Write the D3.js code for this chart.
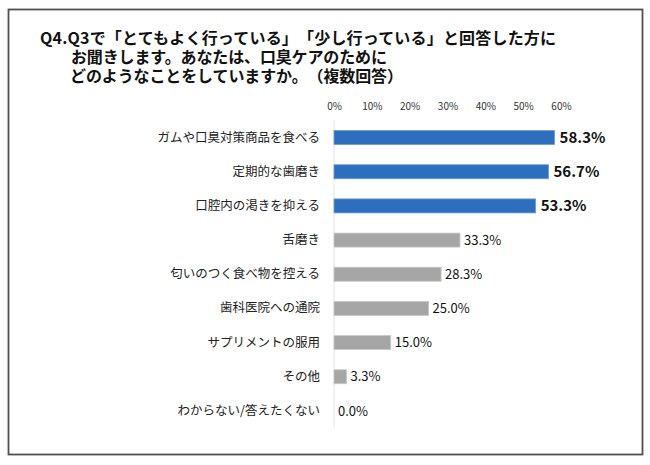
<!DOCTYPE html>
<html>
<head>
<meta charset="utf-8">
<script src="https://cdn.jsdelivr.net/npm/d3@7"></script>
<style>
  html, body { margin: 0; padding: 0; background: #fff; }
  svg { display: block; }
  text { font-family: "Noto Sans CJK JP", "Noto Sans", sans-serif; text-spacing-trim: space-all; }
</style>
</head>
<body>
<svg id="chart" width="650" height="465"></svg>
<script>
const titleLines = [
  "Q4.Q3で「とてもよく行っている」「少し行っている」と回答した方に",
  "お聞きします。あなたは、口臭ケアのために",
  "どのようなことをしていますか。（複数回答）"
];
const categories = [
  "ガムや口臭対策商品を食べる",
  "定期的な歯磨き",
  "口腔内の渇きを抑える",
  "舌磨き",
  "匂いのつく食べ物を控える",
  "歯科医院への通院",
  "サプリメントの服用",
  "その他",
  "わからない/答えたくない"
];
const values = [58.3, 56.7, 53.3, 33.3, 28.3, 25.0, 15.0, 3.3, 0.0];
const highlighted = [true, true, true, false, false, false, false, false, false];
const tickValues = [0, 10, 20, 30, 40, 50, 60];

const svg = d3.select("#chart");

// frame
svg.append("rect")
  .attr("x", 8.5).attr("y", 9.5).attr("width", 634).attr("height", 445)
  .attr("fill", "#fff").attr("stroke", "#505050").attr("stroke-width", 1.8);

// title (one text element, three lines), stretched to reference widths
const titleX = [40, 71, 70];
const titleDy = [44, 19, 19];
const titleLen = [516, 316, 333];
const title = svg.append("text")
  .attr("font-size", 16).attr("font-weight", "bold").attr("fill", "#111");
titleLines.forEach((t, i) => {
  const ts = title.append("tspan")
    .attr("x", titleX[i])
    .attr(i === 0 ? "y" : "dy", titleDy[i])
    .text(t);
  const n = Array.from(t).length;
  const len = ts.node().getComputedTextLength();
  const extra = (titleLen[i] - len) / (n - 1);
  ts.attr("letter-spacing", extra.toFixed(3) + "px");
});

const x = d3.scaleLinear().domain([0, 60]).range([334, 561]);
const y = d3.scaleBand().domain(categories).range([120.5, 428])
  .paddingInner(0.59).paddingOuter(0.295);

// top axis tick labels
const axis = d3.axisTop(x).tickValues(tickValues).tickFormat(d => d + "%").tickSize(0).tickPadding(0);
const gAxis = svg.append("g").attr("transform", "translate(0,110)").call(axis);
gAxis.select(".domain").remove();
gAxis.selectAll("text")
  .attr("font-size", 10).attr("fill", "#333")
  .attr("font-family", "\"Noto Sans CJK JP\", sans-serif")
  .attr("dy", 0);

// vertical baseline
svg.append("line")
  .attr("x1", x(0)).attr("x2", x(0))
  .attr("y1", 120.5).attr("y2", 428)
  .attr("stroke", "#e3e3e3").attr("stroke-width", 1);

// category labels
const yAxis = d3.axisLeft(y).tickSize(0).tickPadding(0);
const gY = svg.append("g").attr("transform", "translate(320,0)").call(yAxis);
gY.select(".domain").remove();
gY.selectAll("text")
  .attr("font-size", 12.5).attr("fill", "#222")
  .attr("font-family", "\"Noto Sans CJK JP\", sans-serif");

// bars
const data = categories.map((c, i) => ({ c, v: values[i], h: highlighted[i] }));
svg.append("g").selectAll("rect").data(data).join("rect")
  .attr("x", x(0))
  .attr("y", d => y(d.c))
  .attr("width", d => x(d.v) - x(0))
  .attr("height", y.bandwidth())
  .attr("fill", d => d.h ? "#2e6fbd" : "#a6a6a6")
  .attr("stroke", d => d.v > 0 ? (d.h ? "#6d9bd3" : "#c8c8c8") : "none")
  .attr("stroke-width", 0.8);

// value labels
svg.append("g").selectAll("text").data(data).join("text")
  .attr("x", d => x(d.v) + (d.h ? 5 : 4))
  .attr("y", d => y(d.c) + y.bandwidth() / 2)
  .attr("dy", "0.36em")
  .attr("font-size", d => d.h ? 15 : 13)
  .attr("font-weight", d => d.h ? "bold" : "normal")
  .attr("fill", "#111")
  .text(d => d.v.toFixed(1) + "%");
</script>
</body>
</html>
